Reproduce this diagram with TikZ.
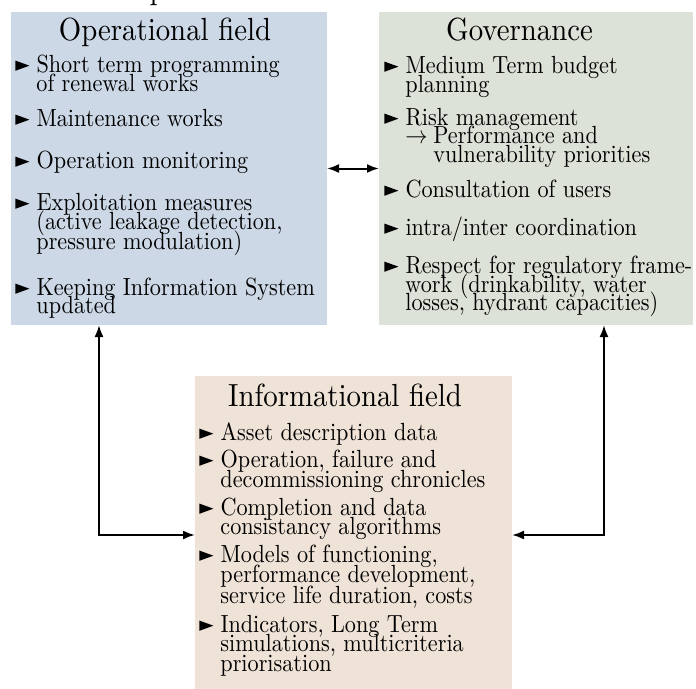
\documentclass[tikz,border=0pt]{standalone}
\usepackage{amssymb}
\usetikzlibrary{arrows.meta}
\definecolor{opblue}{RGB}{204,216,230}
\definecolor{govgreen}{RGB}{220,226,216}
\definecolor{infobeige}{RGB}{239,226,215}
\newcommand{\bul}{\makebox[9.5pt][l]{\tikz[baseline=0pt]\fill (0pt,0.5pt) -- (0pt,4.6pt) -- (6.3pt,2.55pt) -- cycle;}}
\begin{document}
\begin{tikzpicture}[x=1pt,y=-1pt,
  field/.style={inner sep=0pt, outer sep=0pt, draw=none},
  ttl/.style={font=\fontsize{10}{12}\selectfont, xscale=2.88, yscale=3.2, inner sep=0pt, anchor=base},
  ln/.style={font=\fontsize{10}{12}\selectfont, xscale=2.22, yscale=2.48, inner sep=0pt, anchor=base west},
  link/.style={line width=2pt, {Latex[length=12pt,width=9pt]}-{Latex[length=12pt,width=9pt]}}
]
\useasboundingbox (0,0) rectangle (696,688);

% boxes
\node[field, fill=opblue, minimum width=316pt, minimum height=313pt] (op) at (169,168.5) {};
\node[field, fill=govgreen, minimum width=314pt, minimum height=313pt] (gov) at (536,168.5) {};
\node[field, fill=infobeige, minimum width=317pt, minimum height=318pt] (info) at (353.5,535) {};

% fragment of cropped text above
\node[ttl, anchor=base west] (frag) at (149,-0.5) {p};

% Operational field
\node[ttl] (o0) at (165,40) {Operational field};
\node[ln] (o1) at (15,72) {\bul Short term programming};
\node[ln] (o2) at (36,91) {of renewal works};
\node[ln] (o3) at (15,126) {\bul Maintenance works};
\node[ln] (o4) at (15,168) {\bul Operation monitoring};
\node[ln] (o5) at (15,210) {\bul Exploitation measures};
\node[ln] (o6) at (36,229.5) {(active leakage detection,};
\node[ln] (o7) at (36,249) {pressure modulation)};
\node[ln] (o8) at (15,295) {\bul Keeping Information System};
\node[ln] (o9) at (36,313) {updated};

% Governance
\node[ttl] (g0) at (519.5,40) {Governance};
\node[ln] (g1) at (384,73) {\bul Medium Term budget};
\node[ln] (g2) at (405,92) {planning};
\node[ln] (g3) at (384,125) {\bul Risk management};
\node[ln] (g4) at (405,143) {$\rightarrow$\hspace{2.6pt}Performance and};
\node[ln] (g5) at (405,162) {\phantom{$\rightarrow$}\hspace{2.6pt}vulnerability priorities};
\node[ln] (g6) at (384,197) {\bul Consultation of users};
\node[ln] (g7) at (384,235) {\bul intra/inter coordination};
\node[ln] (g8) at (384,273) {\bul Respect for regulatory frame-};
\node[ln] (g9) at (405,292) {work (drinkability, water};
\node[ln] (g10) at (405,310) {losses, hydrant capacities)};

% Informational field
\node[ttl] (i0) at (345,406) {Informational field};
\node[ln] (i1) at (199,440) {\bul Asset description data};
\node[ln] (i2) at (199,467) {\bul Operation, failure and};
\node[ln] (i3) at (220,487) {decommissioning chronicles};
\node[ln] (i4) at (199,515) {\bul Completion and data};
\node[ln] (i5) at (220,534) {consistancy algorithms};
\node[ln] (i6) at (199,562) {\bul Models of functioning,};
\node[ln] (i7) at (220,582) {performance development,};
\node[ln] (i8) at (220,603) {service life duration, costs};
\node[ln] (i9) at (199,632) {\bul Indicators, Long Term};
\node[ln] (i10) at (220,651) {simulations, multicriteria};
\node[ln] (i11) at (220,671) {priorisation};

% connectors
\draw[link] (op) -- (gov);
\draw[link] ([xshift=-70pt]op.south) |- (info.west);
\draw[link] ([xshift=68pt]gov.south) |- (info.east);
\end{tikzpicture}
\end{document}
